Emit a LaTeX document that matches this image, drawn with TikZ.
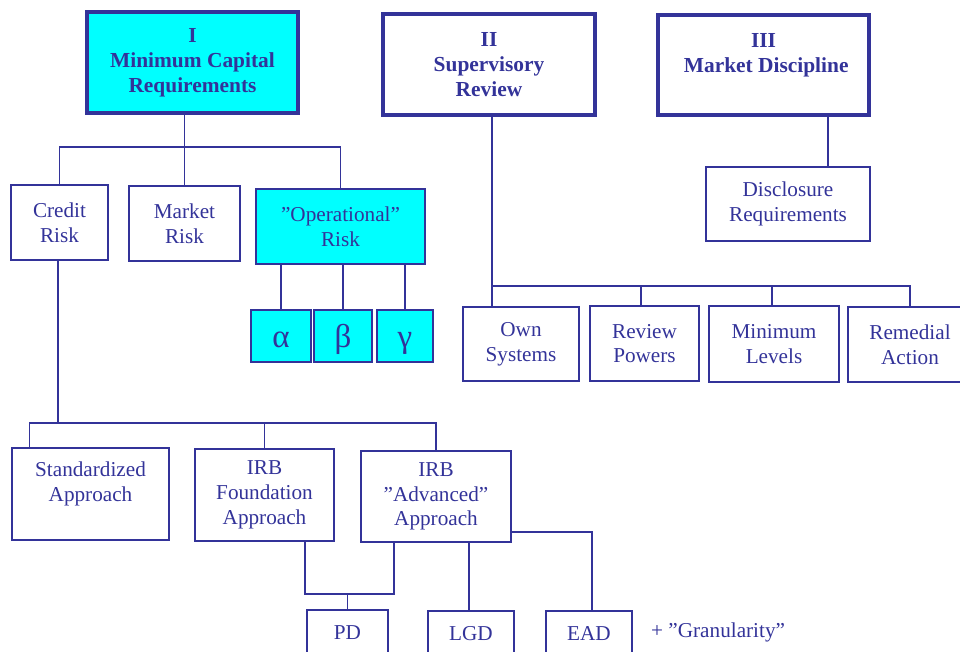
\documentclass[tikz,border=0pt]{standalone}
\usepackage{fontspec}
\setmainfont{Liberation Serif}
\definecolor{dblue}{RGB}{51,51,153}
\definecolor{cyanfill}{RGB}{0,255,255}
\tikzset{
  box/.style={draw=dblue, line width=1.5pt, text=dblue, align=center, inner sep=0pt,
              font=\fontsize{21.2}{24.8}\selectfont},
  tbox/.style={box, line width=3.2pt, font=\bfseries\fontsize{21.4}{24.8}\selectfont},
  hi/.style={fill=cyanfill},
  greek/.style={box, fill=cyanfill, font=\fontsize{33}{33}\selectfont, text height=22pt, text depth=0pt},
  conn/.style={draw=dblue, line width=1.5pt},
  txt/.style={text=dblue, inner sep=0pt, font=\fontsize{21.2}{24.8}\selectfont},
}
\begin{document}
\begin{tikzpicture}[x=1pt,y=1pt]
\useasboundingbox (0,0) rectangle (960,-652);
\clip (0,0) rectangle (960,-652);
% pillars
\node[tbox, hi, minimum width=211pt, minimum height=101pt] (I) at (192.5,-62.5) {I\\Minimum Capital\\Requirements};
\node[tbox, minimum width=212pt, minimum height=101pt] (II) at (489,-64.5) {II\\Supervisory\\Review};
\node[tbox, minimum width=211pt, minimum height=100pt] (III) at (763.5,-65) {III\\\ Market Discipline\\~};
\node[box, minimum width=164pt, minimum height=74pt] (disc) at (788,-204) {Disclosure\\Requirements};
% pillar I children
\node[box, minimum width=97pt, minimum height=75pt] (credit) at (59.5,-222.5) {Credit\\Risk};
\node[box, minimum width=111pt, minimum height=75pt] (market) at (184.5,-223.5) {Market\\Risk};
\node[box, hi, minimum width=169pt, minimum height=75pt] (oper) at (340.5,-226.5) {”Operational”\\Risk};
\node[greek, minimum width=60pt, minimum height=52pt] (alpha) at (281,-336) {α};
\node[greek, minimum width=58pt, minimum height=52pt] (beta) at (343,-336) {β};
\node[greek, minimum width=56pt, minimum height=52pt] (gamma) at (405,-336) {γ};
% approaches
\node[box, minimum width=157pt, minimum height=92pt] (std) at (90.5,-494) {Standardized\\Approach\\~};
\node[box, minimum width=139pt, minimum height=92pt] (found) at (264.5,-495) {IRB\\Foundation\\Approach};
\node[box, minimum width=150pt, minimum height=91pt] (adv) at (436,-496.5) {IRB\\”Advanced”\\Approach};
\node[box, minimum width=81pt, minimum height=46pt] (pd) at (347.5,-633) {PD};
\node[box, minimum width=86pt, minimum height=46pt] (lgd) at (471,-634) {LGD};
\node[box, minimum width=86pt, minimum height=46pt] (ead) at (589,-634) {EAD};
\node[txt, anchor=west] (gran) at (651,-632) {+ ”Granularity”};
% pillar II children
\node[box, minimum width=116pt, minimum height=74pt] (own) at (521,-344) {Own\\Systems};
\node[box, minimum width=109pt, minimum height=75pt] (rev) at (644.5,-343.5) {Review\\Powers};
\node[box, minimum width=130pt, minimum height=76pt] (minl) at (774,-344) {Minimum\\Levels};
\node[box, minimum width=124pt, minimum height=75pt] (rem) at (910,-344.5) {Remedial\\Action};
% bus coordinates
\coordinate (b1) at (0,-147);
\coordinate (b2) at (0,-423);
\coordinate (b4) at (0,-286);
% connectors pillar I
\draw[conn] (I.south -| market.north) -- (market.north);
\draw[conn] (credit.north) |- (b1 -| oper.north) -- (oper.north);
\foreach \g in {alpha,beta,gamma} \draw[conn] (\g.north) -- (\g.north |- oper.south);
\draw[conn] ([xshift=-1.5pt]credit.south) -- ([xshift=-1.5pt]credit.south |- b2);
\draw[conn] ([xshift=18pt]std.north west) |- (b2 -| adv.north) -- (adv.north);
\draw[conn] (found.north) -- (found.north |- b2);
\draw[conn] ([xshift=40.5pt]found.south) -- ++(0,-52) coordinate (b3) -| ([xshift=-42pt]adv.south);
\draw[conn] (pd.north) -- (pd.north |- b3);
\draw[conn] ([xshift=-2pt]lgd.north) -- ([xshift=-2pt]lgd.north |- adv.south);
\draw[conn] ([yshift=11pt]adv.south east) -| ([xshift=3pt]ead.north);
% connectors pillar II
\draw[conn] ([xshift=3pt]II.south) -- ([xshift=3pt]II.south |- b4);
\draw[conn] ([xshift=-29pt]own.north) |- (b4 -| rem.north) -- (rem.north);
\draw[conn] ([xshift=-3.5pt]rev.north) -- ([xshift=-3.5pt]rev.north |- b4);
\draw[conn] ([xshift=-2pt]minl.north) -- ([xshift=-2pt]minl.north |- b4);
% connector pillar III
\draw[conn] ([xshift=40pt]disc.north) -- ([xshift=40pt]disc.north |- III.south);
\end{tikzpicture}
\end{document}
